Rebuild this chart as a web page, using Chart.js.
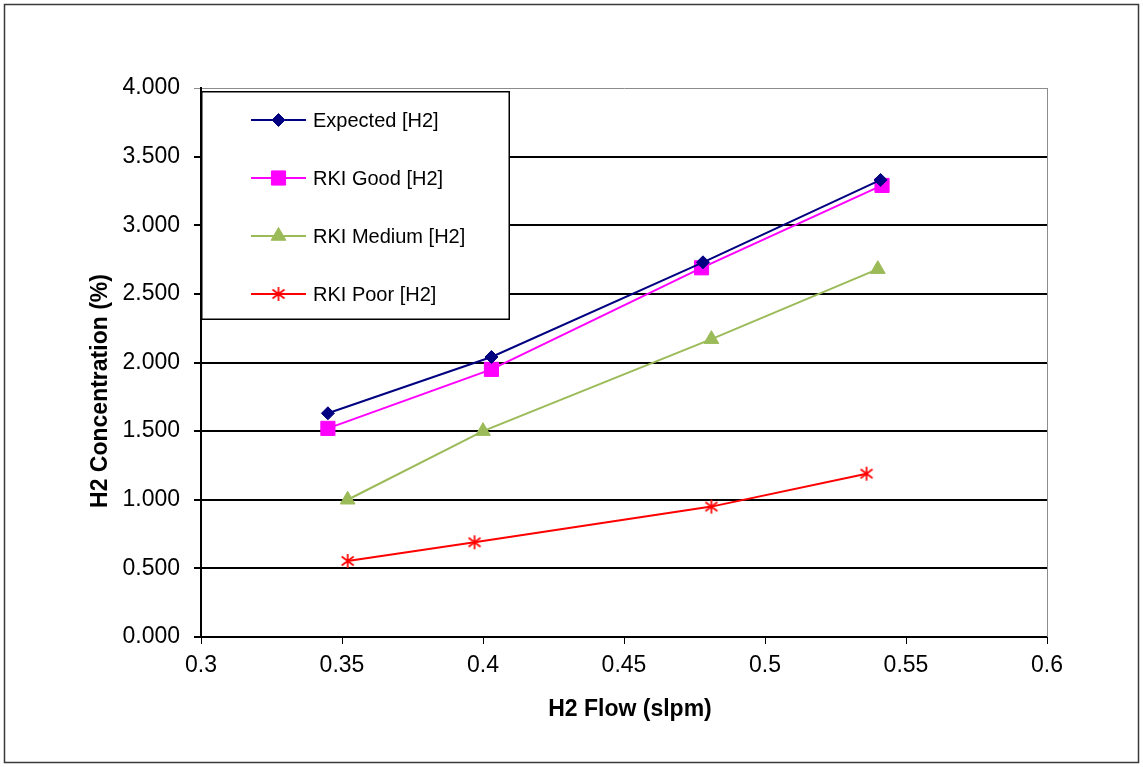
<!DOCTYPE html>
<html>
<head>
<meta charset="utf-8">
<title>H2 Concentration vs H2 Flow</title>
<script src="https://cdn.jsdelivr.net/npm/chart.js@4.4.1/dist/chart.umd.min.js"></script>
<style>
  html, body { margin: 0; padding: 0; background: #ffffff; }
  canvas { display: block; }
</style>
</head>
<body>
<canvas id="chart" width="1143" height="767"></canvas>
<script>
// H2 flow (slpm) and measured concentration (%) for each sensor condition
const flowExpected = [0.345, 0.403, 0.478, 0.541];
const concExpected = [1.63, 2.04, 2.73, 3.33];

const flowGood = [0.345, 0.403, 0.4775, 0.5415];
const concGood = [1.52, 1.95, 2.69, 3.29];

const flowMedium = [0.352, 0.400, 0.481, 0.540];
const concMedium = [1.00, 1.50, 2.17, 2.68];

const flowPoor = [0.352, 0.397, 0.481, 0.536];
const concPoor = [0.554, 0.69, 0.95, 1.19];

const seriesNames = ['Expected [H2]', 'RKI Good [H2]', 'RKI Medium [H2]', 'RKI Poor [H2]'];

const xTicks = [0.3, 0.35, 0.4, 0.45, 0.5, 0.55, 0.6];
const yTicks = [0, 0.5, 1, 1.5, 2, 2.5, 3, 3.5, 4];

const xTitle = 'H2 Flow (slpm)';
const yTitle = 'H2 Concentration (%)';

const FONT = "'Liberation Sans', Arial, sans-serif";

function toPoints(xs, ys) {
  return xs.map((x, i) => ({ x: x, y: ys[i] }));
}

// Asterisk marker: a vertical stroke crossed by an X
function makeAsterisk(color) {
  const c = document.createElement('canvas');
  c.width = 16; c.height = 16;
  const g = c.getContext('2d');
  g.strokeStyle = color;
  g.lineWidth = 1.7;
  g.beginPath();
  g.moveTo(8, 1); g.lineTo(8, 15);
  g.moveTo(2, 3.5); g.lineTo(14, 12.5);
  g.moveTo(14, 3.5); g.lineTo(2, 12.5);
  g.stroke();
  return c;
}
const asterisk = makeAsterisk('#ff0000');

const datasets = [
  {
    label: seriesNames[0],
    data: toPoints(flowExpected, concExpected),
    borderColor: '#000080', backgroundColor: '#000080',
    borderWidth: 2, pointStyle: 'rectRot', pointRadius: 6.5,
    pointBorderWidth: 1, showLine: true
  },
  {
    label: seriesNames[1],
    data: toPoints(flowGood, concGood),
    borderColor: '#ff00ff', backgroundColor: '#ff00ff',
    borderWidth: 2, pointStyle: 'rect', pointRadius: 10,
    pointBorderWidth: 1, showLine: true
  },
  {
    label: seriesNames[2],
    data: toPoints(flowMedium, concMedium),
    borderColor: '#9bbb59', backgroundColor: '#9bbb59',
    borderWidth: 2, pointStyle: 'triangle', pointRadius: 8.5,
    pointBorderWidth: 1, showLine: true
  },
  {
    label: seriesNames[3],
    data: toPoints(flowPoor, concPoor),
    borderColor: '#ff0000', backgroundColor: '#ff0000',
    borderWidth: 2, pointStyle: asterisk, pointRadius: 8,
    pointBorderWidth: 1, showLine: true
  }
];

// Frame, axis titles, plot border and the boxed legend inside the plot area
const decorations = {
  id: 'decorations',
  beforeDraw(chart) {
    const ctx = chart.ctx;
    ctx.save();
    ctx.fillStyle = '#ffffff';
    ctx.fillRect(0, 0, chart.width, chart.height);
    ctx.restore();
  },
  afterDraw(chart) {
    const ctx = chart.ctx;
    const a = chart.chartArea;
    ctx.save();
    // right edge of the plot area
    ctx.strokeStyle = '#8c8c8c';
    ctx.lineWidth = 1;
    ctx.beginPath();
    ctx.moveTo(a.right + 0.5, a.top);
    ctx.lineTo(a.right + 0.5, a.bottom);
    ctx.stroke();

    // outer frame
    ctx.strokeStyle = '#3a3a3a';
    ctx.lineWidth = 1.5;
    ctx.strokeRect(4.5, 4.5, chart.width - 9, chart.height - 9);

    // axis titles
    ctx.fillStyle = '#000000';
    ctx.font = 'bold 23px ' + FONT;
    ctx.textAlign = 'center';
    ctx.textBaseline = 'middle';
    ctx.fillText(xTitle, 630, 710);
    ctx.save();
    ctx.translate(101, 391);
    ctx.rotate(-Math.PI / 2);
    ctx.fillText(yTitle, 0, 0);
    ctx.restore();

    // legend box
    const lx = a.left, ly = a.top + 3, lw = 309, lh = 229;
    ctx.fillStyle = '#ffffff';
    ctx.fillRect(lx, ly, lw, lh);
    ctx.strokeStyle = '#000000';
    ctx.lineWidth = 1.5;
    ctx.strokeRect(lx + 0.75, ly + 0.75, lw - 1.5, lh - 1.5);

    const rowY = [120, 178, 236, 294];
    ctx.font = '20px ' + FONT;
    ctx.textBaseline = 'middle';
    ctx.textAlign = 'left';
    chart.data.datasets.forEach((ds, i) => {
      const y = rowY[i];
      ctx.strokeStyle = ds.borderColor;
      ctx.lineWidth = 2;
      ctx.beginPath();
      ctx.moveTo(251, y);
      ctx.lineTo(306, y);
      ctx.stroke();
      ctx.fillStyle = ds.backgroundColor;
      ctx.strokeStyle = ds.borderColor;
      ctx.lineWidth = 1;
      Chart.helpers.drawPoint(ctx, {
        pointStyle: ds.pointStyle,
        radius: ds.pointRadius,
        rotation: 0,
        borderWidth: 1
      }, 278.5, y);
      ctx.fillStyle = '#000000';
      ctx.fillText(ds.label, 313, y + 1);
    });
    ctx.restore();
  }
};

new Chart(document.getElementById('chart'), {
  type: 'scatter',
  data: { datasets: datasets },
  options: {
    responsive: false,
    animation: false,
    layout: { padding: { left: 88, top: 88, right: 96, bottom: 45 } },
    plugins: {
      legend: { display: false },
      tooltip: { enabled: false }
    },
    scales: {
      x: {
        type: 'linear',
        min: 0.3, max: 0.6,
        afterBuildTicks(scale) { scale.ticks = xTicks.map(v => ({ value: v })); },
        afterFit(scale) { scale.height = 85; },
        ticks: {
          color: '#000000',
          font: { family: FONT, size: 23 },
          padding: 8,
          maxRotation: 0,
          callback: v => String(Math.round(v * 100) / 100)
        },
        grid: {
          drawOnChartArea: false,
          drawTicks: true,
          tickLength: 7,
          color: '#000000',
          lineWidth: 1
        },
        border: { display: true, color: '#000000', width: 2 },
        title: { display: false }
      },
      y: {
        type: 'linear',
        min: 0, max: 4,
        afterBuildTicks(scale) { scale.ticks = yTicks.map(v => ({ value: v })); },
        afterFit(scale) { scale.width = 113; },
        ticks: {
          color: '#000000',
          font: { family: FONT, size: 23 },
          padding: 14,
          callback: v => Number(v).toFixed(3)
        },
        grid: {
          drawTicks: true,
          tickLength: 7,
          color: c => (c.tick && c.tick.value === 4 ? '#8c8c8c' : '#000000'),
          lineWidth: c => (c.tick && c.tick.value === 4 ? 1 : 2)
        },
        border: { display: true, color: '#000000', width: 2 },
        title: { display: false }
      }
    }
  },
  plugins: [decorations]
});
</script>
</body>
</html>
